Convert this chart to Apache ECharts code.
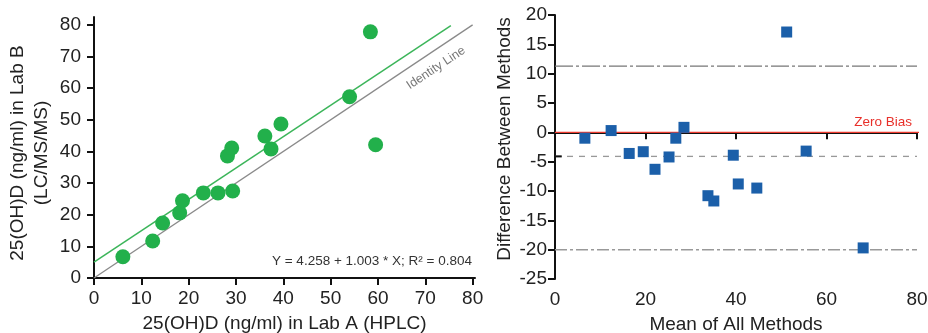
<!DOCTYPE html>
<html>
<head>
<meta charset="utf-8">
<script src="https://cdn.jsdelivr.net/npm/echarts@6/dist/echarts.min.js"></script>
<style>
html,body{margin:0;padding:0;background:#fff;}
#c{width:928px;height:333px;}
</style>
</head>
<body>
<div id="c"></div>
<script>
// ---- Left panel: method comparison ----
var labA = [6.1, 12.4, 14.5, 18.1, 18.7, 23.1, 26.2, 29.3, 28.2, 29.1, 37.4, 36.1, 39.5, 54.0, 58.4, 59.5];
var labB = [6.7, 11.7, 17.4, 20.6, 24.4, 26.9, 26.9, 27.5, 38.6, 41.1, 40.8, 44.9, 48.7, 57.3, 77.8, 42.1];
var regLineX = [0, 75.4];
var regLineY = [5.0, 79.8];
var identX = [0, 80];
var identY = [0, 80];
var leftXTicks = [0, 10, 20, 30, 40, 50, 60, 70, 80];
var leftYTicks = [0, 10, 20, 30, 40, 50, 60, 70, 80];

// ---- Right panel: Bland-Altman ----
var meanAll = [6.6, 12.4, 16.4, 19.5, 22.1, 25.2, 26.7, 28.5, 39.4, 33.8, 35.1, 40.5, 44.6, 68.1, 51.2, 55.5];
var diffMethods = [-1.0, 0.3, -3.6, -3.3, -6.3, -4.2, -1.0, 0.85, -3.9, -10.8, -11.7, -8.8, -9.5, -19.7, 17.1, -3.2];
var upperLimit = 11.3;
var meanBias = -4.1;
var lowerLimit = -20.0;
var zeroBias = 0;
var rightXTicks = [0, 20, 40, 60, 80];
var rightYTicks = [-25, -20, -15, -10, -5, 0, 5, 10, 15, 20];

var FONT = "'Liberation Sans', Arial, sans-serif";
var axisLineStyle = { lineStyle: { color: '#111', width: 2 } };
var tickStyle = { show: true, inside: false, length: 7, lineStyle: { color: '#111', width: 2 } };

function pairs(xs, ys) { return xs.map(function (x, i) { return [x, ys[i]]; }); }

var chart = echarts.init(document.getElementById('c'), null, { renderer: 'canvas' });
chart.setOption({
  animation: false,
  backgroundColor: '#fff',
  grid: [
    { left: 94, right: 453, top: 17, bottom: 55, containLabel: false, outerBoundsMode: 'none' },
    { left: 555, right: 11, top: 15, bottom: 54, containLabel: false, outerBoundsMode: 'none' }
  ],
  xAxis: [
    {
      gridIndex: 0, type: 'value', min: 0, max: 80.5,
      axisLine: axisLineStyle,
      axisTick: Object.assign({ customValues: leftXTicks }, tickStyle),
      axisLabel: { customValues: leftXTicks, color: '#222', fontSize: 19, fontFamily: FONT, margin: 11 },
      splitLine: { show: false },
      name: '25(OH)D (ng/ml) in Lab A (HPLC)', nameLocation: 'middle', nameGap: 36,
      nameTextStyle: { color: '#222', fontSize: 19, fontFamily: FONT }
    },
    {
      gridIndex: 1, type: 'value', min: 0, max: 80,
      axisLine: axisLineStyle,
      axisTick: Object.assign({ customValues: rightXTicks }, tickStyle),
      axisLabel: { customValues: rightXTicks, color: '#222', fontSize: 19, fontFamily: FONT, margin: 11 },
      splitLine: { show: false },
      name: 'Mean of All Methods', nameLocation: 'middle', nameGap: 36,
      nameTextStyle: { color: '#222', fontSize: 19, fontFamily: FONT }
    }
  ],
  yAxis: [
    {
      gridIndex: 0, type: 'value', min: 0, max: 82.5,
      axisLine: axisLineStyle,
      axisTick: Object.assign({ customValues: leftYTicks }, tickStyle),
      axisLabel: { customValues: leftYTicks, color: '#222', fontSize: 19, fontFamily: FONT, margin: 13 },
      splitLine: { show: false }
    },
    {
      gridIndex: 1, type: 'value', min: -25, max: 20,
      axisLine: axisLineStyle,
      axisTick: Object.assign({ customValues: rightYTicks }, tickStyle),
      axisLabel: { customValues: rightYTicks, color: '#222', fontSize: 19, fontFamily: FONT, margin: 8 },
      splitLine: { show: false }
    }
  ],
  graphic: [
    {
      type: 'text', x: 30, y: 153, rotation: Math.PI / 2,
      style: { text: '25(OH)D (ng/ml) in Lab B\n(LC/MS/MS)', fill: '#222', font: '19px ' + FONT,
               textAlign: 'center', textVerticalAlign: 'middle', lineHeight: 24 }
    },
    {
      type: 'text', x: 505, y: 139, rotation: Math.PI / 2,
      style: { text: 'Difference Between Methods', fill: '#222', font: '19px ' + FONT,
               textAlign: 'center', textVerticalAlign: 'middle' }
    },
    {
      type: 'text', x: 472, y: 261,
      style: { text: 'Y = 4.258 + 1.003 * X; R\u00B2 = 0.804', fill: '#333', font: '13.5px ' + FONT,
               textAlign: 'right', textVerticalAlign: 'middle' }
    },
    {
      type: 'text', x: 436, y: 68, rotation: 0.585,
      style: { text: 'Identity Line', fill: '#777', font: '12.5px ' + FONT,
               textAlign: 'center', textVerticalAlign: 'middle' }
    },
    {
      type: 'text', x: 912, y: 122,
      style: { text: 'Zero Bias', fill: '#e8302a', font: '13.5px ' + FONT,
               textAlign: 'right', textVerticalAlign: 'middle' }
    }
  ],
  series: [
    {
      type: 'line', xAxisIndex: 0, yAxisIndex: 0, silent: true, symbol: 'none', z: 2,
      data: pairs(identX, identY), lineStyle: { color: '#8a8a8a', width: 1.3 }
    },
    {
      type: 'line', xAxisIndex: 0, yAxisIndex: 0, silent: true, symbol: 'none', z: 2,
      data: pairs(regLineX, regLineY), lineStyle: { color: '#3cb55a', width: 1.5 }
    },
    {
      type: 'scatter', xAxisIndex: 0, yAxisIndex: 0, z: 5,
      symbol: 'circle', symbolSize: 15,
      itemStyle: { color: '#22b04b', opacity: 1 },
      data: pairs(labA, labB)
    },
    {
      type: 'line', xAxisIndex: 1, yAxisIndex: 1, silent: true, symbol: 'none', z: 2,
      data: [[0, upperLimit], [80, upperLimit]],
      lineStyle: { color: '#777', width: 1.3, type: [18, 3, 3, 3] }
    },
    {
      type: 'line', xAxisIndex: 1, yAxisIndex: 1, silent: true, symbol: 'none', z: 2,
      data: [[0, meanBias], [80, meanBias]],
      lineStyle: { color: '#999', width: 1.3, type: [6, 6] }
    },
    {
      type: 'line', xAxisIndex: 1, yAxisIndex: 1, silent: true, symbol: 'none', z: 3,
      data: [[0, meanBias], [1.5, meanBias]],
      lineStyle: { color: '#111', width: 2 }
    },
    {
      type: 'line', xAxisIndex: 1, yAxisIndex: 1, silent: true, symbol: 'none', z: 2,
      data: [[0, lowerLimit], [80, lowerLimit]],
      lineStyle: { color: '#999', width: 1.5, type: [12, 3, 3, 3] }
    },
    {
      type: 'line', xAxisIndex: 1, yAxisIndex: 1, silent: true, symbol: 'none', z: 2,
      data: [[0, zeroBias], [80.6, zeroBias]],
      lineStyle: { color: '#ee3b2f', width: 1.2 }
    },
    {
      type: 'scatter', xAxisIndex: 1, yAxisIndex: 1, z: 5,
      symbol: 'rect', symbolSize: 11,
      itemStyle: { color: '#1b5fa9', opacity: 1 },
      data: pairs(meanAll, diffMethods)
    }
  ]
});
</script>
</body>
</html>
